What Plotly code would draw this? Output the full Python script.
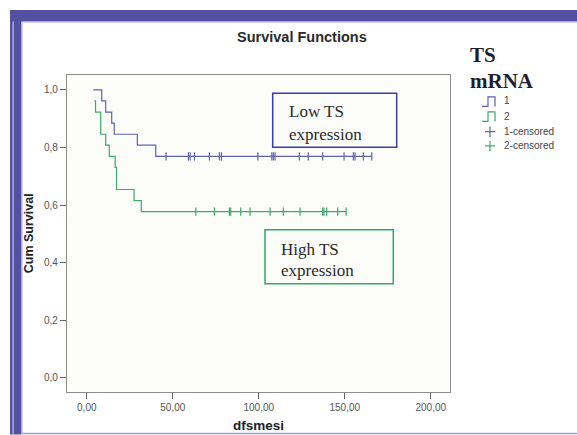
import plotly.graph_objects as go

# ---------------- data ----------------
low_times = [3.8, 8.7, 11.0, 14.5, 16.0, 29.4, 40.1]
low_surv = [1.0, 0.962, 0.923, 0.885, 0.846, 0.808, 0.769]
low_censored = [46.1, 59.1, 60.1, 62.6, 71.3, 77.1, 78.3, 99.5, 107.6, 108.5,
                109.5, 123.6, 128.8, 137.2, 149.6, 155.0, 156.0, 160.8, 165.7]

high_times = [4.4, 5.1, 8.1, 11.0, 13.1, 16.5, 17.3, 27.5, 31.7]
high_surv = [0.962, 0.923, 0.846, 0.808, 0.769, 0.731, 0.654, 0.615, 0.577]
high_censored = [63.4, 74.2, 82.9, 83.7, 89.5, 94.9, 106.6, 114.3, 124.0,
                 137.2, 137.9, 139.5, 145.9, 150.8]

x_ticks = [0, 50, 100, 150, 200]
y_ticks = [0.0, 0.2, 0.4, 0.6, 0.8, 1.0]

BLUE = "#5e63b0"
GREEN = "#3aa96c"

W, H = 577, 435
L, R, T, B = 67, 450, 75, 392.5


def px(x):
    return (x - L) / (R - L)


def py(y):
    return (B - y) / (B - T)


fig = go.Figure()

# survival step curves
fig.add_trace(go.Scatter(
    x=low_times + [max(low_censored)],
    y=low_surv + [low_surv[-1]],
    mode="lines", line=dict(color=BLUE, width=1.2, shape="hv"),
    showlegend=False, hoverinfo="skip"))
fig.add_trace(go.Scatter(
    x=high_times + [max(high_censored)],
    y=high_surv + [high_surv[-1]],
    mode="lines", line=dict(color=GREEN, width=1.2, shape="hv"),
    showlegend=False, hoverinfo="skip"))

# censored marks
fig.add_trace(go.Scatter(
    x=low_censored, y=[low_surv[-1]] * len(low_censored), mode="markers",
    marker=dict(symbol="line-ns", size=6, line=dict(color=BLUE, width=1.2)),
    showlegend=False, hoverinfo="skip"))
fig.add_trace(go.Scatter(
    x=high_censored, y=[high_surv[-1]] * len(high_censored), mode="markers",
    marker=dict(symbol="line-ns", size=6, line=dict(color=GREEN, width=1.2)),
    showlegend=False, hoverinfo="skip"))

shapes = []
PURPLE = "#5250a0"
LAV = "#a49ed8"


def rect(x0, y0, x1, y1, fill=None, line=None, lw=0, layer="above"):
    shapes.append(dict(type="rect", xref="paper", yref="paper",
                       x0=px(x0), x1=px(x1), y0=py(y1), y1=py(y0),
                       fillcolor=fill, line=dict(color=line or "rgba(0,0,0,0)", width=lw),
                       layer=layer))


def seg(x0, y0, x1, y1, color, lw=1.0):
    shapes.append(dict(type="line", xref="paper", yref="paper",
                       x0=px(x0), x1=px(x1), y0=py(y0), y1=py(y1),
                       line=dict(color=color, width=lw)))


def path(points, color, lw=1.2):
    d = "M " + " L ".join(f"{px(a)},{py(b)}" for a, b in points)
    shapes.append(dict(type="path", xref="paper", yref="paper", path=d,
                       line=dict(color=color, width=lw)))


# purple frame
rect(10, 10, W, 21.5, fill=PURPLE)
rect(10, 10, 21.5, H, fill=PURPLE)
rect(12.3, 21.5, 14.0, H, fill=LAV)
seg(21.5, 22.3, W, 22.3, "#c9c5ea", 1)
seg(22.3, 22.3, 22.3, H, "#c9c5ea", 1)
seg(21.5, 434, W, 434, LAV, 1.5)

# annotation boxes
rect(272.7, 93.3, 396.7, 147.3, line="#3d3da8", lw=1.5)
rect(265, 230, 393.3, 284, line="#2fa86a", lw=1.5)

# legend icons
path([(482, 106.5), (488, 106.5), (488, 97), (495, 97), (495, 106.5)], BLUE)
path([(482, 121.5), (488, 121.5), (488, 112), (495, 112), (495, 121.5)], GREEN)
seg(485, 131.7, 495, 131.7, BLUE, 1.2)
seg(490, 126.5, 490, 137, BLUE, 1.2)
seg(485, 146, 495, 146, GREEN, 1.2)
seg(490, 141, 490, 151, GREEN, 1.2)

annotations = []


def text(x, y, s, size, color="#222", family="Arial", bold=False,
         xanchor="left", yanchor="middle", angle=0):
    if bold:
        s = f"<b>{s}</b>"
    annotations.append(dict(xref="paper", yref="paper", x=px(x), y=py(y),
                            text=s, showarrow=False, xanchor=xanchor,
                            yanchor=yanchor, textangle=angle,
                            font=dict(size=size, color=color, family=family)))


SERIF = "Liberation Serif"
text(302, 37, "Survival Functions", 14.5, bold=True, xanchor="center", color="#2a2a2a")
text(258.5, 426, "dfsmesi", 13.5, bold=True, xanchor="center", color="#222")
text(29, 233.5, "Cum Survival", 12.5, bold=True, xanchor="center", angle=-90)

text(286.7, 111.2, "Low TS", 17, family=SERIF, color="#2a2a2a")
text(286.7, 134.5, "expression", 17, family=SERIF, color="#2a2a2a")
text(279.3, 249.5, "High TS", 17, family=SERIF, color="#2a2a2a")
text(279.3, 271.2, "expression", 17, family=SERIF, color="#2a2a2a")

text(468, 55, "TS", 21, family=SERIF, bold=True, color="#1e1e2e")
text(468, 81, "mRNA", 21, family=SERIF, bold=True, color="#1e1e2e")
text(502, 101, "1", 10, color="#444")
text(502, 116.5, "2", 10, color="#444")
text(502, 131.7, "1-censored", 10, color="#444")
text(502, 146, "2-censored", 10, color="#444")

fig.update_layout(
    width=W, height=H,
    margin=dict(l=L, r=W - R, t=T, b=H - B, pad=0),
    paper_bgcolor="white", plot_bgcolor="#fcfcf9",
    separators=",.",
    shapes=shapes, annotations=annotations,
    showlegend=False,
    font=dict(family="Arial", size=10, color="#555"),
)
fig.update_xaxes(
    range=[-11.5, 211.2], tickvals=x_ticks, tickformat=".2f",
    showgrid=False, zeroline=False, showline=True, mirror=True,
    linecolor="#8c8c8c", linewidth=1.2, ticks="outside", ticklen=6,
    tickcolor="#666", tickfont=dict(size=10, color="#555", family="Arial"))
fig.update_yaxes(
    range=[-0.050, 1.052], tickvals=y_ticks, tickformat=".1f",
    showgrid=False, zeroline=False, showline=True, mirror=True,
    linecolor="#8c8c8c", linewidth=1.2, ticks="outside", ticklen=6,
    tickcolor="#666", tickfont=dict(size=10, color="#555", family="Arial"))

fig.write_html("out.html")
